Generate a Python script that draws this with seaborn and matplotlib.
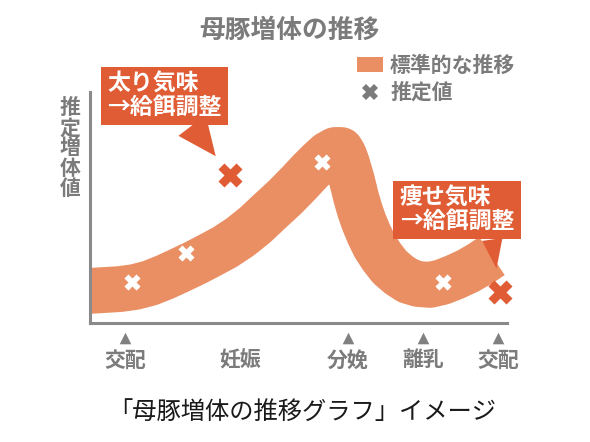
import matplotlib
matplotlib.use("Agg")
import matplotlib.pyplot as plt
from matplotlib.lines import Line2D
from matplotlib.patches import Patch
import seaborn as sns
import pandas as pd

# standard growth band (centre line), x = position in the breeding cycle, y = gain
curve_x = [0.0, 3.6, 7.2, 10.8, 14.4, 18.0, 21.6, 25.2, 28.8, 32.4, 36.0,
           39.6, 43.2, 46.8, 49.9, 52.8, 55.2, 57.1, 58.8, 60.2, 60.9, 61.6,
           62.8, 63.8, 64.7, 65.7, 66.9, 68.3, 70.0, 71.9, 74.1, 76.3, 78.7,
           81.5, 84.4, 87.5, 90.6, 93.5, 96.4]
curve_y = [13.9, 14.3, 14.7, 15.6, 17.3, 19.9, 22.9, 26.0, 29.4, 32.9, 37.2,
           42.4, 48.5, 54.5, 60.2, 65.8, 70.1, 73.2, 74.9, 74.9, 72.7, 69.3,
           61.9, 54.5, 48.9, 43.7, 38.5, 33.3, 28.6, 24.2, 20.8, 18.2, 16.9,
           16.5, 17.7, 19.9, 22.5, 25.5, 29.0]

# estimated values that sit on the standard band
est_x = [10.1, 23.0, 55.6, 84.7]
est_y = [17.7, 30.3, 69.7, 17.7]

# estimated values off the band (too fat / too thin)
off_x = [33.6, 98.3]
off_y = [64.1, 13.4]
off_notes = ["太り気味\n→給餌調整", "痩せ気味\n→給餌調整"]

# breeding stages on the x axis
stage_x = [8.4, 36.0, 61.9, 79.9, 97.8]
stage_labels = ["交配", "妊娠", "分娩", "離乳", "交配"]
stage_marked = [True, False, True, True, True]

BAND = "#EA8F64"
ALERT = "#E05C34"
GRAY = "#7b7b7b"
JP = ["Noto Sans CJK JP", "DejaVu Sans"]

sns.set_theme(style="white")
plt.rcParams["font.family"] = JP

fig = plt.figure(figsize=(5.9, 4.42), dpi=100)
ax = fig.add_axes([0.1525, 0.2692, 0.7068, 0.5226])

curve = pd.DataFrame({"x": curve_x, "y": curve_y})
sns.lineplot(data=curve, x="x", y="y", ax=ax, color=BAND, linewidth=33,
             sort=False, solid_capstyle="butt", solid_joinstyle="round")

est = pd.DataFrame({"x": est_x, "y": est_y})
sns.scatterplot(data=est, x="x", y="y", ax=ax, marker="X", s=135,
                color="white", linewidth=0, zorder=4)

off = pd.DataFrame({"x": off_x, "y": off_y})
sns.scatterplot(data=off, x="x", y="y", ax=ax, marker="X", s=300,
                color=ALERT, linewidth=0, zorder=4, clip_on=False)

# speech bubbles
note_pos = [(0.041, 0.983), (0.743, 0.489)]
note_rel = [(0.70, 0.0), (0.80, 0.0)]
note_tail = [1.5, 0.9]
for i in range(len(off_notes)):
    ax.annotate(off_notes[i], xy=(off_x[i], off_y[i]), xycoords="data",
                xytext=note_pos[i], textcoords="axes fraction",
                ha="left", va="center", fontsize=16.5, fontweight="bold",
                color="white", linespacing=1.0, annotation_clip=False,
                bbox=dict(boxstyle="square,pad=0.28", fc=ALERT, ec="none"),
                arrowprops=dict(arrowstyle="wedge,tail_width=%.2f" % note_tail[i],
                                fc=ALERT, ec="none", relpos=note_rel[i],
                                shrinkA=0, shrinkB=17),
                zorder=5)

# stage markers and labels
ax.set_xlim(0, 100)
ax.set_ylim(0, 100)
ax.set_xticks(stage_x, stage_labels)
ax.set_yticks([])
ax.tick_params(axis="x", length=0, pad=19, labelsize=15, labelcolor=GRAY)
for lab in ax.get_xticklabels():
    lab.set_fontweight("bold")
ax.scatter([x for x, m in zip(stage_x, stage_marked) if m],
           [-0.065] * sum(stage_marked), marker="^", s=70, color="#808080",
           transform=ax.get_xaxis_transform(), clip_on=False, linewidth=0)

ax.set_xlabel("")
ax.set_ylabel("")
ax.text(-0.048, 0.978, "推\n定\n増\n体\n値", transform=ax.transAxes,
        ha="center", va="top", fontsize=15, fontweight="bold", color=GRAY,
        linespacing=0.95)

for side in ["top", "right"]:
    ax.spines[side].set_visible(False)
for side in ["left", "bottom"]:
    ax.spines[side].set_color("#8a8a8a")
    ax.spines[side].set_linewidth(2.2)

handles = [Patch(facecolor=BAND, edgecolor="none"),
           Line2D([], [], marker="X", color=GRAY, linestyle="None",
                  markersize=11, markeredgewidth=0)]
leg = fig.legend(handles, ["標準的な推移", "推定値"], loc="upper left",
                 bbox_to_anchor=(0.605, 0.876), frameon=False, borderpad=0,
                 borderaxespad=0, handlelength=1.25, handleheight=0.7,
                 handletextpad=0.34, labelspacing=0.3,
                 prop={"family": JP, "size": 15, "weight": "bold"})
for t in leg.get_texts():
    t.set_color(GRAY)

fig.text(0.49, 0.932, "母豚増体の推移", ha="center", va="center",
         fontsize=18.5, fontweight="bold", color=GRAY)
fig.text(0.512, 0.068, "「母豚増体の推移グラフ」イメージ", ha="center",
         va="center", fontsize=17.5, color="#1a1a1a")

fig.savefig("out.png", dpi=100, facecolor="white")
